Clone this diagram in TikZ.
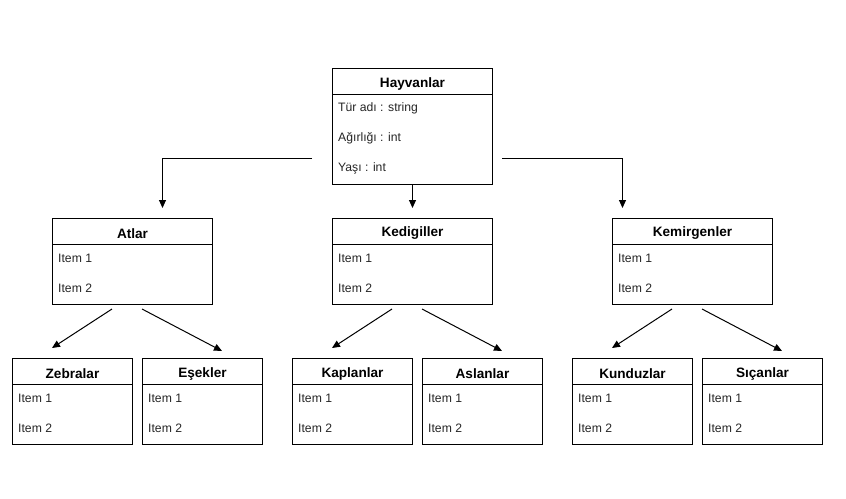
\documentclass[tikz,border=0pt]{standalone}
\usepackage{fontspec}
\setmainfont{Liberation Sans}
\usetikzlibrary{arrows.meta,calc}
\tikzset{
  boxshape/.style={draw, line width=1pt, anchor=north west, inner sep=0pt, fill=white},
  titletext/.style={font=\fontsize{13.6}{16}\selectfont\bfseries, inner sep=0pt},
  itemtext/.style={font=\fontsize{12.2}{14}\selectfont, text=black!85, anchor=west, inner sep=0pt},
  headline/.style={line width=1pt},
  conn/.style={line width=1pt, -{Triangle[length=8pt,width=7pt]}},
}
\newcommand\mkclass[6]{%
  \node[boxshape, minimum width=#4pt, minimum height=#5pt] (#1) at (#2,#3) {};
  \draw[headline] ($(#1.north west)+(0,26)$) -- ($(#1.north east)+(0,26)$);
  \node[titletext] (#1-t) at ($(#1.north)+(0,15.5)$) {#6};
}
\newcommand\mkitem[3]{%
  \node[itemtext] at ($(#1.north west)+(6,#2+1.5)$) {#3};
}
\begin{document}
\begin{tikzpicture}[x=1pt,y=-1pt]
\useasboundingbox (0,0) rectangle (846,498);
\fill[white] (0,0) rectangle (846,498);

\mkclass{hay}{332}{68}{160}{116}{Hayvanlar}
\mkitem{hay}{39}{Tür adı : string}
\mkitem{hay}{69}{Ağırlığı : int}
\mkitem{hay}{99}{Yaşı : int}

\mkclass{atl}{52}{218}{160}{86}{Atlar}
\mkitem{atl}{39}{Item 1}
\mkitem{atl}{69}{Item 2}
\mkclass{ked}{332}{218}{160}{86}{Kedigiller}
\mkitem{ked}{39}{Item 1}
\mkitem{ked}{69}{Item 2}
\mkclass{kem}{612}{218}{160}{86}{Kemirgenler}
\mkitem{kem}{39}{Item 1}
\mkitem{kem}{69}{Item 2}

\mkclass{zeb}{12}{358}{120}{86}{Zebralar}
\mkitem{zeb}{39}{Item 1}
\mkitem{zeb}{69}{Item 2}
\mkclass{ese}{142}{358}{120}{86}{Eşekler}
\mkitem{ese}{39}{Item 1}
\mkitem{ese}{69}{Item 2}
\mkclass{kap}{292}{358}{120}{86}{Kaplanlar}
\mkitem{kap}{39}{Item 1}
\mkitem{kap}{69}{Item 2}
\mkclass{asl}{422}{358}{120}{86}{Aslanlar}
\mkitem{asl}{39}{Item 1}
\mkitem{asl}{69}{Item 2}
\mkclass{kun}{572}{358}{120}{86}{Kunduzlar}
\mkitem{kun}{39}{Item 1}
\mkitem{kun}{69}{Item 2}
\mkclass{sic}{702}{358}{120}{86}{Sıçanlar}
\mkitem{sic}{39}{Item 1}
\mkitem{sic}{69}{Item 2}

% top-level connectors
\coordinate (hl) at (312,158);
\coordinate (hr) at (502,158);
\draw[conn, shorten >=10pt] (hl) -| ($(atl.north)+(30,0)$);
\draw[conn, shorten >=10pt] (hr) -| ($(kem.north)+(-70,0)$);
\draw[conn, shorten >=10pt] (hay.south) -- (ked.north);

% second-level connectors
\foreach \p/\l/\r in {atl/zeb/ese, ked/kap/asl, kem/kun/sic}{
  \coordinate (\p-a) at ($(\p.south west)+(60,4)$);
  \coordinate (\p-b) at ($(\p.south west)+(90,4)$);
  \coordinate (\l-e) at ($(\l.north west)+(40,-10)$);
  \coordinate (\r-e) at ($(\r.north west)+(80,-7)$);
  \draw[conn] (\p-a) -- (\l-e);
  \draw[conn] (\p-b) -- (\r-e);
}
\end{tikzpicture}
\end{document}
